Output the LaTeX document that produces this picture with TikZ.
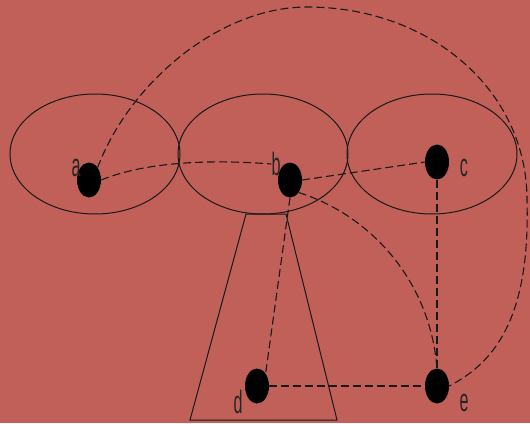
\documentclass[tikz,border=0pt]{standalone}
\usepackage{fontspec}
\setmainfont{Liberation Sans}
\usetikzlibrary{shapes.geometric}
\definecolor{bgred}{RGB}{192,96,88}
\newcommand\lbltxt[1]{\scalebox{0.95}[1.9]{#1}}
\begin{document}
\begin{tikzpicture}[x=1pt,y=-1pt,
  vtx/.style={ellipse,fill=black,draw=none,minimum width=24pt,minimum height=35pt,inner sep=0pt},
  lbl/.style={font=\fontsize{17}{17}\selectfont,inner sep=0pt,text=black!85},
  grp/.style={draw=black!90,line width=1pt},
  conn/.style={draw=black!90,line width=1.1pt,dash pattern=on 8pt off 4pt}]
\fill[bgred] (0,0) rectangle (530,423);
\useasboundingbox (0,0) rectangle (530,423);
% group outlines
\draw[grp] (95,154) ellipse [x radius=85, y radius=60];
\draw[grp] (263,154) ellipse [x radius=85, y radius=60];
\draw[grp] (432,154) ellipse [x radius=85, y radius=60];
\draw[grp] (246,214) -- (286,214) -- (337,420) -- (190,420) -- cycle;
% vertices
\node[vtx] (a) at (89,180) {};
\node[vtx] (b) at (290,180) {};
\node[vtx] (c) at (437,162) {};
\node[vtx] (d) at (257,386) {};
\node[vtx] (e) at (437,386) {};
% labels
\node[lbl] (la) at (76,168) {\lbltxt{a}};
\node[lbl] (lb) at (276,164) {\lbltxt{b}};
\node[lbl] (lc) at (464,168) {\lbltxt{c}};
\node[lbl] (ld) at (238,402) {\lbltxt{d}};
\node[lbl] (le) at (464,403) {\lbltxt{e}};
% connectors
\draw[conn] (a.east) .. controls (150,160) and (220,160) .. (lb.west);
\draw[conn] (b.east) -- (c.west);
\draw[conn] (b.south east) .. controls (370,215) and (430,280) .. (e.north);
\draw[conn] (b.south) -- (d.north east);
\draw[conn] (c.south) -- (e.north);
\draw[conn] (d.east) -- (e.west);
\coordinate (top) at (307,7);
\coordinate (rgt) at (527,200);
\draw[conn] (a.north east) .. controls (130,82) and (220,7) .. (top)
  .. controls (430,7) and (527,90) .. (rgt)
  .. controls (530,310) and (500,360) .. (e.east);
\end{tikzpicture}
\end{document}
